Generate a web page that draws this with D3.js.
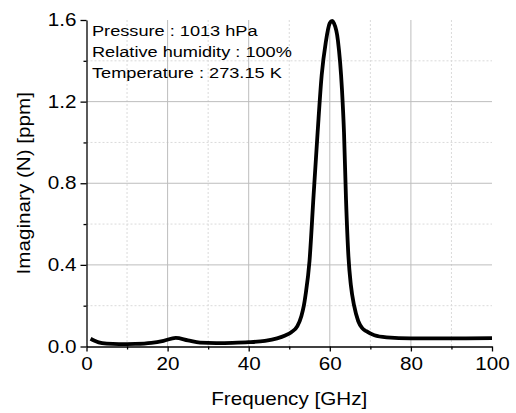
<!DOCTYPE html>
<html>
<head>
<meta charset="utf-8">
<script src="https://cdn.jsdelivr.net/npm/d3@7"></script>
<style>
  body { margin: 0; background: #fff; }
  svg { font-family: "Liberation Sans", Arial, sans-serif; }
</style>
</head>
<body>
<svg id="chart" width="516" height="413"></svg>
<script>
const SVG_WIDTH = 516;
const SVG_HEIGHT = 413;
const MARGIN = { left: 86.5, right: 24, top: 20, bottom: 66.5 };
const CHART_WIDTH = SVG_WIDTH - MARGIN.left - MARGIN.right;
const CHART_HEIGHT = SVG_HEIGHT - MARGIN.top - MARGIN.bottom;
// the reference font is drawn wider than Arial
const STRETCH = 1.18;

// values
const frequency = [1, 2, 3, 5, 8, 12, 16, 19, 22, 25, 28, 32, 36, 40, 44, 47, 49, 50.5, 52, 53, 53.6, 54, 55, 56, 57, 58, 59, 60, 60.6, 61, 62, 63, 63.5, 64, 64.6, 65.2, 66, 67, 68, 69, 71, 74, 80, 90, 100];
const imaginary = [0.038, 0.028, 0.02, 0.014, 0.012, 0.013, 0.018, 0.028, 0.042, 0.03, 0.019, 0.017, 0.018, 0.021, 0.028, 0.04, 0.054, 0.07, 0.1, 0.15, 0.2, 0.25, 0.42, 0.74, 1.05, 1.33, 1.49, 1.585, 1.595, 1.585, 1.5, 1.26, 1.05, 0.72, 0.44, 0.3, 0.2, 0.125, 0.09, 0.075, 0.055, 0.045, 0.04, 0.04, 0.041];
const xTicks = [0, 20, 40, 60, 80, 100];
const xMinor = [10, 30, 50, 70, 90];
const yTicks = [0.0, 0.4, 0.8, 1.2, 1.6];
const yMinor = [0.2, 0.6, 1.0, 1.4];
const notes = ["Pressure : 1013 hPa", "Relative humidity : 100%", "Temperature : 273.15 K"];

const data = frequency.map((f, i) => ({ f: f, v: imaginary[i] }));

const svg = d3.select("#chart");
const g = svg.append("g").attr("transform", `translate(${MARGIN.left}, ${MARGIN.top})`);

const x_scale = d3.scaleLinear().domain([0, 100]).range([0, CHART_WIDTH]);
const y_scale = d3.scaleLinear().domain([0, 1.6]).range([CHART_HEIGHT, 0]);

// minor grid (dotted)
g.append("g")
  .selectAll("line")
  .data(xMinor)
  .join("line")
  .attr("x1", (d) => x_scale(d))
  .attr("x2", (d) => x_scale(d))
  .attr("y1", 0)
  .attr("y2", CHART_HEIGHT)
  .attr("stroke", "#dadada")
  .attr("stroke-dasharray", "2,2");
g.append("g")
  .selectAll("line")
  .data(yMinor)
  .join("line")
  .attr("x1", 0)
  .attr("x2", CHART_WIDTH)
  .attr("y1", (d) => y_scale(d))
  .attr("y2", (d) => y_scale(d))
  .attr("stroke", "#dadada")
  .attr("stroke-dasharray", "2,2");

// major grid
g.append("g")
  .selectAll("line")
  .data(xTicks.filter((d) => d > 0 && d < 100))
  .join("line")
  .attr("x1", (d) => x_scale(d))
  .attr("x2", (d) => x_scale(d))
  .attr("y1", 0)
  .attr("y2", CHART_HEIGHT)
  .attr("stroke", "#bdbdbd");
g.append("g")
  .selectAll("line")
  .data(yTicks.filter((d) => d > 0 && d < 1.6))
  .join("line")
  .attr("x1", 0)
  .attr("x2", CHART_WIDTH)
  .attr("y1", (d) => y_scale(d))
  .attr("y2", (d) => y_scale(d))
  .attr("stroke", "#bdbdbd");

// axes
g.append("g")
  .attr("transform", `translate(0, ${CHART_HEIGHT})`)
  .call(d3.axisBottom(x_scale).tickValues(xTicks).tickSize(5).tickPadding(6).tickSizeOuter(0));
g.append("g")
  .attr("transform", `translate(0, ${CHART_HEIGHT})`)
  .call(d3.axisBottom(x_scale).tickValues(xMinor).tickSize(3).tickFormat("").tickSizeOuter(0))
  .select(".domain").remove();

g.append("g")
  .call(d3.axisLeft(y_scale).tickValues(yTicks).tickFormat(d3.format(".1f")).tickSize(6).tickPadding(4).tickSizeOuter(0));
g.append("g")
  .call(d3.axisLeft(y_scale).tickValues(yMinor).tickSize(3).tickFormat("").tickSizeOuter(0))
  .select(".domain").remove();

svg.selectAll(".tick text")
  .style("font-size", "17.5px")
  .style("font-family", "Liberation Sans, Arial, sans-serif")
  .attr("fill", "#000")
  .attr("transform", function () {
    const x = +this.getAttribute("x") || 0;
    return `translate(${x},0) scale(${STRETCH},1)`;
  })
  .attr("x", 0);
svg.selectAll(".domain, .tick line").attr("stroke", "#000").attr("stroke-width", 1.3);

// curve
g.append("path")
  .datum(data)
  .attr("fill", "none")
  .attr("stroke", "#000")
  .attr("stroke-width", 3.8)
  .attr("stroke-linejoin", "round")
  .attr("d", d3.line().x((d) => x_scale(d.f)).y((d) => y_scale(d.v)).curve(d3.curveMonotoneX));

// annotations
g.append("g")
  .selectAll("text")
  .data(notes)
  .join("text")
  .attr("transform", (d, i) => `translate(5.5, ${16 + i * 21}) scale(${STRETCH},1)`)
  .style("font-size", "15.4px")
  .text((d) => d);

// axis labels
svg.append("text")
  .attr("transform", `translate(${MARGIN.left + CHART_WIDTH / 2}, 405) scale(${STRETCH},1)`)
  .attr("text-anchor", "middle")
  .style("font-size", "17.5px")
  .text("Frequency [GHz]");
svg.append("text")
  .attr("transform", `translate(30, ${MARGIN.top + CHART_HEIGHT / 2}) rotate(-90) scale(${STRETCH},1)`)
  .attr("text-anchor", "middle")
  .style("font-size", "17.5px")
  .text("Imaginary (N) [ppm]");
</script>
</body>
</html>
